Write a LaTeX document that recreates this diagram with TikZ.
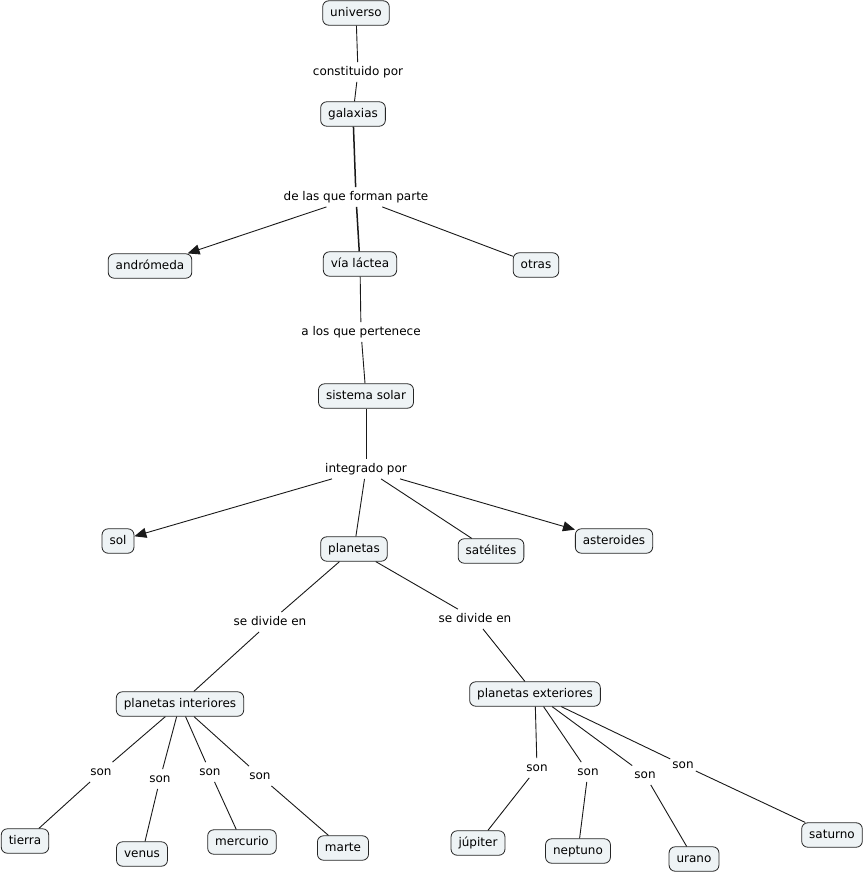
\documentclass[tikz,border=0pt]{standalone}
\usepackage{fontspec}
\setmainfont{DejaVu Sans}
\usetikzlibrary{arrows.meta}
\definecolor{boxfill}{HTML}{EEF3F5}
\begin{document}
\begin{tikzpicture}[x=1pt,y=-1pt,
 concept/.style={draw=black!85, fill=boxfill, rounded corners=6pt, line width=0.8pt,
   inner xsep=7.5pt, inner ysep=6.5pt, text height=8.8pt, text depth=2.6pt,
   font=\fontsize{12}{14}\selectfont},
 linkl/.style={inner xsep=2pt, inner ysep=4pt, text height=8.8pt, text depth=2.6pt,
   font=\fontsize{12}{14}\selectfont},
 conn/.style={line width=0.9pt, draw=black!90},
 strongconn/.style={line width=1.5pt, draw=black!90},
 arr/.style={conn, -{Triangle[length=12pt,width=10pt]}}
]
\fill[white] (0,0) rectangle (866,873);
\useasboundingbox (0,0) rectangle (866,873);

% concepts
\node[concept] (universo) at (356,13) {universo};
\node[concept] (galaxias) at (353,114) {galaxias};
\node[concept] (andromeda) at (150,266) {andrómeda};
\node[concept] (vialactea) at (360,264) {vía láctea};
\node[concept] (otras) at (536,265) {otras};
\node[concept] (sistema) at (366,396) {sistema solar};
\node[concept] (sol) at (118,541) {sol};
\node[concept] (planetas) at (354,549) {planetas};
\node[concept] (satelites) at (491,551) {satélites};
\node[concept] (asteroides) at (614,541) {asteroides};
\node[concept] (pint) at (180,704) {planetas interiores};
\node[concept] (pext) at (535,694) {planetas exteriores};
\node[concept] (tierra) at (25,841) {tierra};
\node[concept] (venus) at (142,854) {venus};
\node[concept] (mercurio) at (242,842) {mercurio};
\node[concept] (marte) at (343,848) {marte};
\node[concept] (jupiter) at (478,843) {júpiter};
\node[concept] (neptuno) at (578,851) {neptuno};
\node[concept] (urano) at (694,859) {urano};
\node[concept] (saturno) at (832,835) {saturno};

% linking phrases
\node[linkl] (l1) at (358,72) {constituido por};
\node[linkl] (l2) at (356,197) {de las que forman parte};
\node[linkl] (l3) at (361,332) {a los que pertenece};
\node[linkl] (l4) at (366,469) {integrado por};
\node[linkl] (l5) at (270,622) {se divide en};
\node[linkl] (l6) at (475,619) {se divide en};
\node[linkl] (s1) at (101,772) {son};
\node[linkl] (s2) at (160,779) {son};
\node[linkl] (s3) at (210,772) {son};
\node[linkl] (s4) at (260,776) {son};
\node[linkl] (s5) at (537,768) {son};
\node[linkl] (s6) at (588,772) {son};
\node[linkl] (s7) at (645,775) {son};
\node[linkl] (s8) at (683,765) {son};

% connectors
\draw[conn] (universo) -- (l1);
\draw[conn] (l1) -- (galaxias);
\draw[strongconn] (galaxias) -- (l2);
\draw[arr] (l2) -- (andromeda);
\draw[strongconn] (l2) -- (vialactea);
\draw[conn] (l2) -- (otras);
\draw[conn] (vialactea) -- (l3);
\draw[conn] (l3) -- (sistema);
\draw[conn] (sistema) -- (l4);
\draw[arr] (l4) -- (sol);
\draw[conn] (l4) -- (planetas);
\draw[conn] (l4) -- (satelites);
\draw[arr] (l4) -- (asteroides);
\draw[conn] (planetas) -- (l5);
\draw[conn] (l5) -- (pint);
\draw[conn] (planetas) -- (l6);
\draw[conn] (l6) -- (pext);
\draw[conn] (pint) -- (s1); \draw[conn] (s1) -- (tierra);
\draw[conn] (pint) -- (s2); \draw[conn] (s2) -- (venus);
\draw[conn] (pint) -- (s3); \draw[conn] (s3) -- (mercurio);
\draw[conn] (pint) -- (s4); \draw[conn] (s4) -- (marte);
\draw[conn] (pext) -- (s5); \draw[conn] (s5) -- (jupiter);
\draw[conn] (pext) -- (s6); \draw[conn] (s6) -- (neptuno);
\draw[conn] (pext) -- (s7); \draw[conn] (s7) -- (urano);
\draw[conn] (pext) -- (s8); \draw[conn] (s8) -- (saturno);
\end{tikzpicture}
\end{document}
